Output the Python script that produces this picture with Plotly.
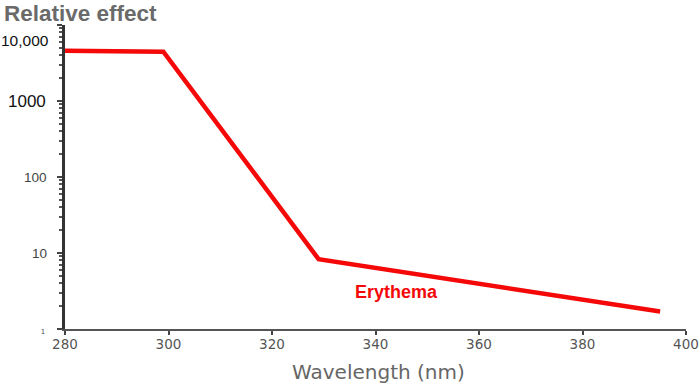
import math
import plotly.graph_objects as go

# Data
wavelength = [280, 299, 329, 395]
effect = [4600, 4450, 8.3, 1.7]
series_name = "Erythema"

x_tick_vals = [280, 300, 320, 340, 360, 380, 400]
y_tick_vals = [1, 10, 100, 1000, 10000]
y_tick_text = ["1", "10", "100", "1000", "10,000"]
y_tick_sizes = [7, 13.5, 13.5, 17, 15.5]
y_tick_shift = [-2, 0, 0, 0, -15]
y_tick_xshift = [-18, -16, -16, -17, -14]

minor_vals = [d * m for d in [1, 10, 100, 1000] for m in range(2, 10)]

fig = go.Figure()
fig.add_trace(go.Scatter(
    x=wavelength, y=effect, mode="lines",
    line=dict(color="#f40808", width=4.5),
    name=series_name, showlegend=False, hoverinfo="skip"))

for v, t, s, sh, xs in zip(y_tick_vals, y_tick_text, y_tick_sizes, y_tick_shift, y_tick_xshift):
    fig.add_annotation(x=0, xref="paper", y=math.log10(v),
                       yref="y", text=t, showarrow=False, xanchor="right",
                       xshift=xs, yshift=sh,
                       font=dict(family="Liberation Sans, Arial", size=s,
                                 color="#111" if s >= 15 else "#444"))

fig.add_annotation(x=0, xref="paper", xanchor="left", xshift=-63,
                   y=1, yref="paper", yanchor="bottom", yshift=-3,
                   text="<b>Relative effect</b>", showarrow=False,
                   font=dict(family="Liberation Sans, Arial", size=22.5, color="#6a6a6a"))
fig.add_annotation(x=0.5, xref="paper", y=0, yref="paper", yanchor="top", yshift=-29,
                   xshift=3,
                   text="Wavelength (nm)", showarrow=False,
                   font=dict(family="DejaVu Sans", size=20, color="#666"))
fig.add_annotation(x=344, y=0.49, yref="y", xref="x", text="<b>" + series_name + "</b>",
                   showarrow=False,
                   font=dict(family="Liberation Sans, Arial", size=18, color="#f40808"))

fig.update_xaxes(range=[280, 400], tickvals=x_tick_vals, ticks="outside", ticklen=4,
                 tickwidth=1.5, tickcolor="#444", showline=True, linecolor="#555",
                 linewidth=2, showgrid=False, zeroline=False, automargin=False,
                 ticklabelstandoff=-2,
                 tickfont=dict(family="DejaVu Sans", size=13.5, color="#555"))
fig.update_yaxes(type="log", range=[0, 4], tickvals=y_tick_vals, showticklabels=False,
                 ticks="outside", ticklen=5, tickwidth=1.5, tickcolor="#444",
                 minor=dict(ticks="outside", ticklen=3, tickcolor="#555",
                            tickvals=minor_vals, showgrid=False),
                 showline=True, linecolor="#333", linewidth=2.5, showgrid=False,
                 zeroline=False, automargin=False)

fig.update_layout(width=700, height=385, margin=dict(l=65, r=14, t=25, b=56),
                  plot_bgcolor="white", paper_bgcolor="white")
fig.write_html("out.html", config={"displayModeBar": False})

with open("out.html", "r", encoding="utf-8") as f:
    html = f.read()
html = html.replace("<head>", "<head><style>html,body{margin:0;padding:0;overflow:hidden;}</style>", 1)
with open("out.html", "w", encoding="utf-8") as f:
    f.write(html)
